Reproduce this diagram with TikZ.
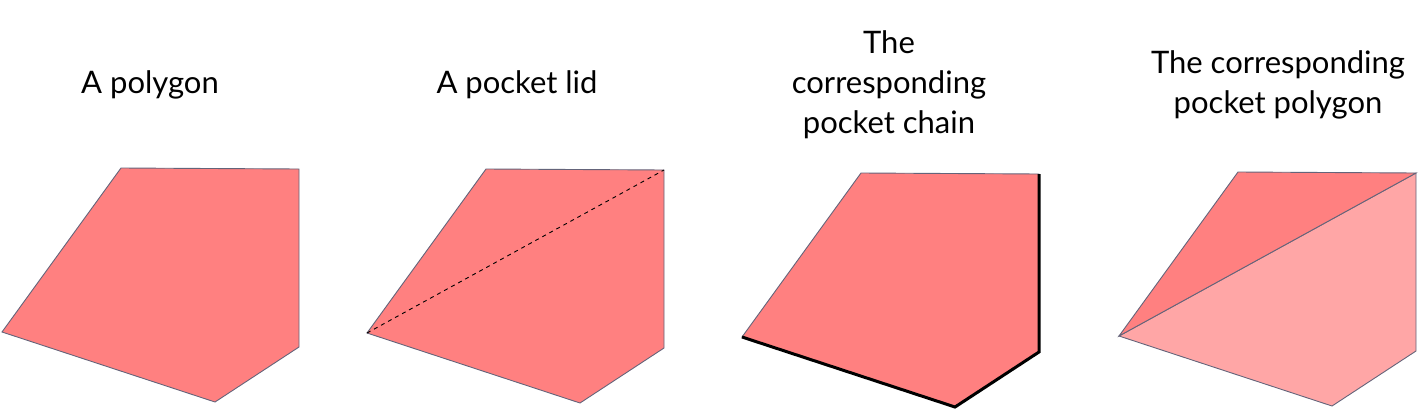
\documentclass[tikz,border=0pt]{standalone}
\usepackage{fontspec}
\setmainfont{Lato}
\usetikzlibrary{positioning}
\definecolor{PolyFill}{RGB}{255,128,128}
\definecolor{PocketFill}{RGB}{255,166,166}
\definecolor{EdgeGray}{RGB}{100,100,122}
\tikzset{
  poly/.style={draw=EdgeGray,fill=PolyFill,line width=0.9pt},
  pocket/.style={draw=EdgeGray,fill=PocketFill,line width=0.9pt},
  lid/.style={draw=black,dash pattern=on 4pt off 4pt,line width=0.9pt},
  chain/.style={draw=black,line width=3pt},
  caption/.style={align=center,font=\fontsize{31}{40}\selectfont},
}
\begin{document}
\begin{tikzpicture}[x=1pt,y=-1pt]
\useasboundingbox (0,0) rectangle (1420,410);
% corners of the four copies of the polygon
\foreach \i/\x/\y in {1/2/332, 2/367/333, 3/742/337, 4/1119/336}{
  \coordinate (l\i) at (\x,\y);
  \coordinate (tl\i) at (\x+119,\y-164);
  \coordinate (tr\i) at (\x+297,\y-163);
  \coordinate (br\i) at (\x+297,\y+15);
  \coordinate (b\i) at (\x+213,\y+70);
}

\node[caption] (cap1) at (150,85) {A polygon};
\node[caption] (cap2) at (517,85) {A pocket lid};
\node[caption] (cap3) at (889,85) {The\\corresponding\\pocket chain};
\node[caption] (cap4) at (1278,85) {The corresponding\\pocket polygon};

\draw[poly] (l1)--(tl1)--(tr1)--(br1)--(b1)--cycle;

\draw[poly] (l2)--(tl2)--(tr2)--(br2)--(b2)--cycle;
\draw[lid] (l2)--(tr2);

\draw[poly] (l3)--(tl3)--(tr3)--(br3)--(b3)--cycle;
\draw[chain] (l3)--(b3)--(br3)--(tr3);

\draw[pocket] (l4)--(b4)--(br4)--(tr4)--cycle;
\draw[poly] (l4)--(tl4)--(tr4)--cycle;
\end{tikzpicture}
\end{document}
